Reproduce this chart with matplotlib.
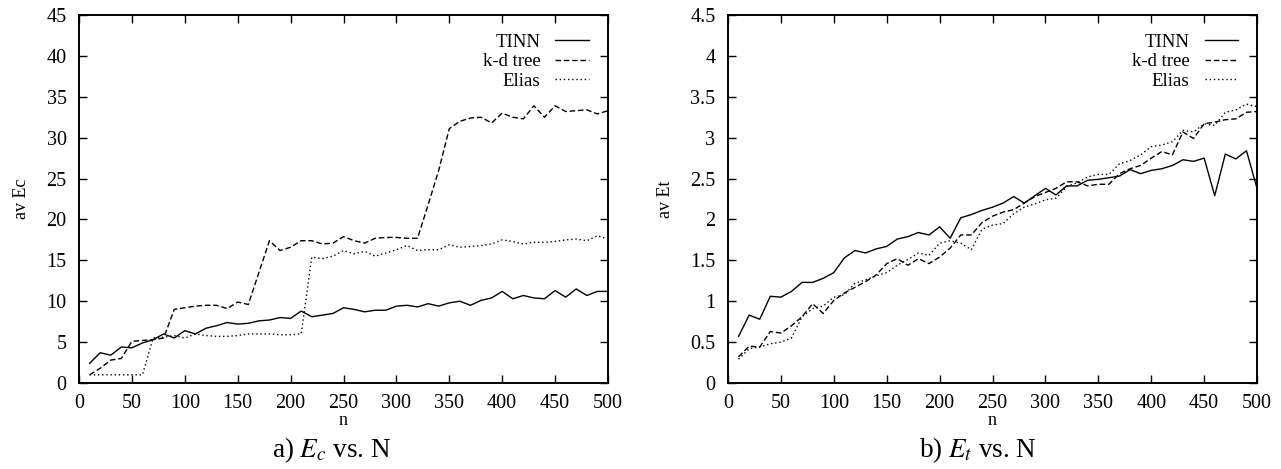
import numpy as np
import matplotlib
matplotlib.use("Agg")
import matplotlib.pyplot as plt

plt.rcParams['font.family'] = ['Liberation Serif', 'DejaVu Serif']
plt.rcParams['mathtext.fontset'] = 'stix'

n = np.arange(10, 501, 10)

# a) average Ec
tinn_ec = [2.4, 3.7, 3.4, 4.4, 4.3, 4.9, 5.3, 6.0, 5.5, 6.4,
           6.0, 6.7, 7.0, 7.4, 7.2, 7.3, 7.6, 7.7, 8.0, 7.9,
           8.8, 8.1, 8.3, 8.5, 9.2, 9.0, 8.7, 8.9, 8.9, 9.4,
           9.5, 9.3, 9.7, 9.4, 9.8, 10.0, 9.5, 10.1, 10.4, 11.2,
           10.3, 10.7, 10.4, 10.3, 11.3, 10.5, 11.5, 10.7, 11.2, 11.2]
kd_ec = [1.0, 1.8, 2.8, 3.0, 5.1, 5.2, 5.3, 5.5, 9.0, 9.2,
         9.4, 9.5, 9.5, 9.1, 9.9, 9.6, 13.5, 17.4, 16.2, 16.6,
         17.4, 17.4, 17.0, 17.1, 17.9, 17.4, 17.1, 17.7, 17.8, 17.8,
         17.7, 17.7, 21.8, 26.0, 31.1, 32.0, 32.4, 32.5, 31.8, 33.0,
         32.5, 32.3, 33.9, 32.5, 33.9, 33.2, 33.3, 33.4, 32.9, 33.3]
elias_ec = [1.0, 1.0, 1.0, 1.0, 1.0, 1.0, 5.5, 5.6, 5.8, 5.5,
            6.0, 5.8, 5.7, 5.7, 5.8, 6.0, 6.0, 6.0, 5.9, 5.9,
            6.0, 15.4, 15.2, 15.5, 16.2, 15.8, 16.1, 15.5, 15.9, 16.3,
            16.8, 16.2, 16.3, 16.3, 16.9, 16.6, 16.7, 16.8, 17.0, 17.5,
            17.3, 17.0, 17.2, 17.2, 17.3, 17.5, 17.6, 17.4, 18.0, 17.6]

# b) average Et
tinn_et = [0.57, 0.83, 0.78, 1.06, 1.05, 1.12, 1.23, 1.23, 1.28, 1.35,
           1.53, 1.62, 1.59, 1.64, 1.67, 1.76, 1.79, 1.84, 1.81, 1.91,
           1.77, 2.02, 2.06, 2.11, 2.15, 2.20, 2.28, 2.20, 2.29, 2.38,
           2.30, 2.41, 2.41, 2.48, 2.49, 2.51, 2.53, 2.61, 2.56, 2.60,
           2.62, 2.66, 2.73, 2.71, 2.75, 2.29, 2.80, 2.74, 2.84, 2.38]
kd_et = [0.32, 0.45, 0.44, 0.63, 0.61, 0.70, 0.81, 0.97, 0.85, 1.01,
         1.10, 1.17, 1.24, 1.32, 1.46, 1.52, 1.44, 1.52, 1.46, 1.54,
         1.65, 1.81, 1.81, 1.96, 2.04, 2.09, 2.12, 2.20, 2.28, 2.33,
         2.38, 2.46, 2.46, 2.41, 2.43, 2.43, 2.56, 2.62, 2.66, 2.75,
         2.83, 2.79, 3.07, 2.99, 3.17, 3.19, 3.22, 3.23, 3.31, 3.32]
elias_et = [0.29, 0.42, 0.44, 0.48, 0.50, 0.55, 0.81, 0.91, 0.94, 1.05,
            1.08, 1.22, 1.26, 1.31, 1.35, 1.44, 1.51, 1.59, 1.56, 1.71,
            1.74, 1.71, 1.63, 1.88, 1.93, 1.95, 2.07, 2.15, 2.19, 2.24,
            2.26, 2.40, 2.45, 2.52, 2.55, 2.55, 2.68, 2.72, 2.79, 2.89,
            2.91, 2.95, 3.09, 3.07, 3.17, 3.15, 3.31, 3.34, 3.41, 3.38]

fig = plt.figure(figsize=(12.81, 4.69), dpi=100)
ax1 = fig.add_axes([0.0617, 0.1834, 0.4129, 0.7846])
ax2 = fig.add_axes([0.5683, 0.1834, 0.4130, 0.7846])

def draw(ax, t, k, e, ymax, ystep, ylabel):
    ax.plot(n, t, color='black', lw=1.0, ls='-', label='TINN')
    ax.plot(n, k, color='black', lw=1.0, ls=(0, (4, 2)), label='k-d tree')
    ax.plot(n, e, color='black', lw=1.0, ls=(0, (1, 2)), label='Elias')
    ax.set_xlim(0, 500)
    ax.set_ylim(0, ymax)
    ax.set_xticks(np.arange(0, 501, 50))
    ax.set_yticks(np.arange(0, ymax + ystep / 2, ystep))
    ax.tick_params(direction='in', top=True, right=True, length=6,
                   width=1.0, labelsize=14.5)
    ax.tick_params(axis='x', pad=8)
    ax.tick_params(axis='y', pad=9)
    for s in ax.spines.values():
        s.set_linewidth(1.4)
    ax.set_xlabel('n', fontsize=13, labelpad=-1)
    ax.set_ylabel(ylabel, fontsize=13, labelpad=12)
    ax.legend(loc='upper right', frameon=False, markerfirst=False,
              fontsize=13.5, handlelength=1.8, labelspacing=0.12,
              borderaxespad=0.6, handletextpad=0.8)

draw(ax1, tinn_ec, kd_ec, elias_ec, 45, 5, 'av Ec')
draw(ax2, tinn_et, kd_et, elias_et, 4.5, 0.5, 'av Et')
ax2.yaxis.set_major_formatter(matplotlib.ticker.FuncFormatter(lambda v, p: '%g' % v))

fig.text(0.259, 0.025, 'a) $E_c$ vs. N', ha='center', fontsize=19.5)
fig.text(0.763, 0.025, 'b) $E_t$ vs. N', ha='center', fontsize=19.5)

fig.savefig('out.png', dpi=100)
